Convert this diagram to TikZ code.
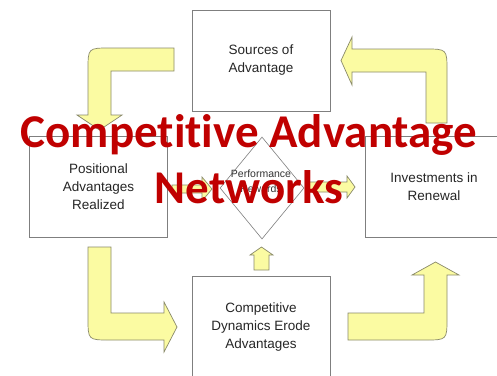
\documentclass[tikz,border=0pt]{standalone}
\usepackage{fontspec}
\setmainfont{Liberation Sans}
\newfontfamily\titlefont[Ligatures=NoCommon]{Carlito}
\usetikzlibrary{shapes.geometric}
\definecolor{arrowfill}{HTML}{FBFBA2}
\definecolor{arrowline}{HTML}{8A8A6A}
\definecolor{boxline}{HTML}{7F7F7F}
\definecolor{titlered}{HTML}{C00000}

\begin{document}
\begin{tikzpicture}[x=1pt,y=-1pt,
    stagebox/.style={draw=boxline,line width=0.8pt,minimum width=138pt,minimum height=101pt,
      align=center,text=black!85,font=\fontsize{13.5}{18}\selectfont},
    blockarrow/.style={fill=arrowfill,draw=arrowline,line width=0.7pt,line join=miter}]
  \useasboundingbox[fill=white] (0,0) rectangle (497,375);
  \node[stagebox] (sources) at (261,60.5) {Sources of\\Advantage};
  \node[stagebox] (positional) at (98.5,187) {Positional\\Advantages\\Realized};
  \node[stagebox] (renewal) at (434,187) {Investments in\\Renewal};
  \node[stagebox] (dynamics) at (261,327) {Competitive\\Dynamics Erode\\Advantages};
  \node[draw=boxline,line width=0.6pt,diamond,minimum width=84pt,minimum height=102pt,inner sep=0pt] (rewards) at (262,188) {};
  \node[align=center,font=\fontsize{10.5}{15}\selectfont,text=black!80] (rewardstext) at (261,181) {Performance\\Rewards};
  \draw[blockarrow] (174,48) -- (110,48) .. controls (88,48) .. (88,70) -- (88,115) -- (77,115)
    -- (99.5,130) -- (122,115) -- (111,115) -- (111,71) -- (174,71) -- cycle;
  \draw[blockarrow] (426,123) -- (426,72) -- (352,72) -- (352,85) -- (341,60.5) -- (352,37)
    -- (352,49) -- (425,49) .. controls (447,49) .. (447,71) -- (447,123) -- cycle;
  \draw[blockarrow] (88,247) -- (88,318) .. controls (88,340) .. (110,340) -- (164,340) -- (164,352)
    -- (177,327) -- (164,302) -- (164,313) -- (111,313) -- (111,247) -- cycle;
  \draw[blockarrow] (348,313) -- (424,313) -- (424,275) -- (412,275) -- (435.5,262) -- (459,275)
    -- (447,275) -- (447,318) .. controls (447,340) .. (425,340) -- (348,340) -- cycle;
  \draw[blockarrow] (254,270) -- (254,255) -- (250,255) -- (261.5,247) -- (273,255) -- (269,255)
    -- (269,270) -- cycle;
  \draw[blockarrow] (172,185) -- (202,185) -- (202,177) -- (212,189) -- (202,201) -- (202,193)
    -- (172,193) -- cycle;
  \draw[blockarrow] (308,182) -- (347,182) -- (347,176) -- (355,187) -- (347,198) -- (347,192)
    -- (308,192) -- cycle;
  \node[align=center,text=titlered,font=\titlefont\bfseries\fontsize{47}{56}\selectfont,inner sep=0pt]
    (title) at (249,159.5) {Competitive Advantage\\Networks};
\end{tikzpicture}
\end{document}
